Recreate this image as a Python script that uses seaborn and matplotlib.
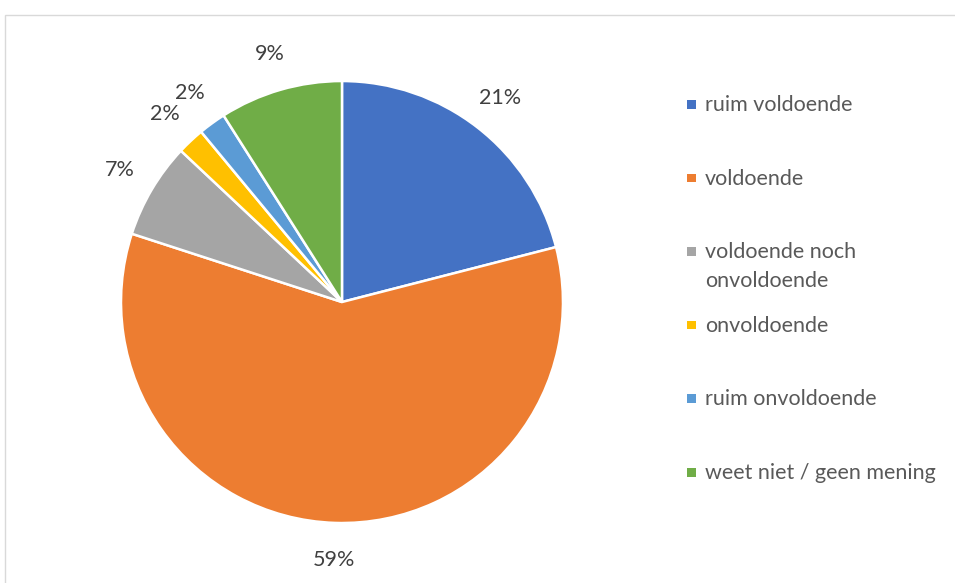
import matplotlib
matplotlib.use("Agg")
import matplotlib.pyplot as plt
from matplotlib.patches import Rectangle
import seaborn as sns

# data
categories = ["ruim voldoende", "voldoende", "voldoende noch\nonvoldoende",
              "onvoldoende", "ruim onvoldoende", "weet niet / geen mening"]
percentages = [21, 59, 7, 2, 2, 9]
colors = ["#4472C4", "#ED7D31", "#A5A5A5", "#FFC000", "#5B9BD5", "#70AD47"]

sns.set_theme(style="white")
plt.rcParams["font.family"] = ["Lato", "DejaVu Sans"]
palette = sns.color_palette(colors)

W, H = 955, 583
fig = plt.figure(figsize=(W / 100, H / 100), dpi=100)
ax = fig.add_axes([0.1267, 0.1029, 0.4628, 0.7581])

wedges, texts, autotexts = ax.pie(
    percentages, colors=palette, startangle=90, counterclock=False,
    autopct=lambda p: f"{p:.0f}%", pctdistance=1.17,
    wedgeprops=dict(edgecolor="white", linewidth=1.8),
    textprops=dict(color="#404040", fontsize=15.5),
)
ax.set_xlim(-1, 1)
ax.set_ylim(-1, 1)
ax.set_aspect("equal")

# Excel-style legend: first lines evenly spaced, wrapped text spills below
first_baseline, step, line_h = 111, 73.6, 29
for i, (label, col) in enumerate(zip(categories, palette)):
    base = first_baseline + i * step
    fig.patches.append(Rectangle((687 / W, 1 - (base - 2.5) / H), 9 / W, 8.5 / H,
                                 transform=fig.transFigure, facecolor=col,
                                 edgecolor="none"))
    for k, line in enumerate(label.split("\n")):
        fig.text(705 / W, 1 - (base + k * line_h) / H, line, fontsize=15.5,
                 color="#595959", va="baseline", ha="left")

# light chart border like the original
fig.patches.append(Rectangle((5 / W, -0.01), 1.0, (H - 15) / H + 0.01,
                             transform=fig.transFigure, fill=False,
                             edgecolor="#D9D9D9", linewidth=1))

fig.savefig("out.png", dpi=100)
